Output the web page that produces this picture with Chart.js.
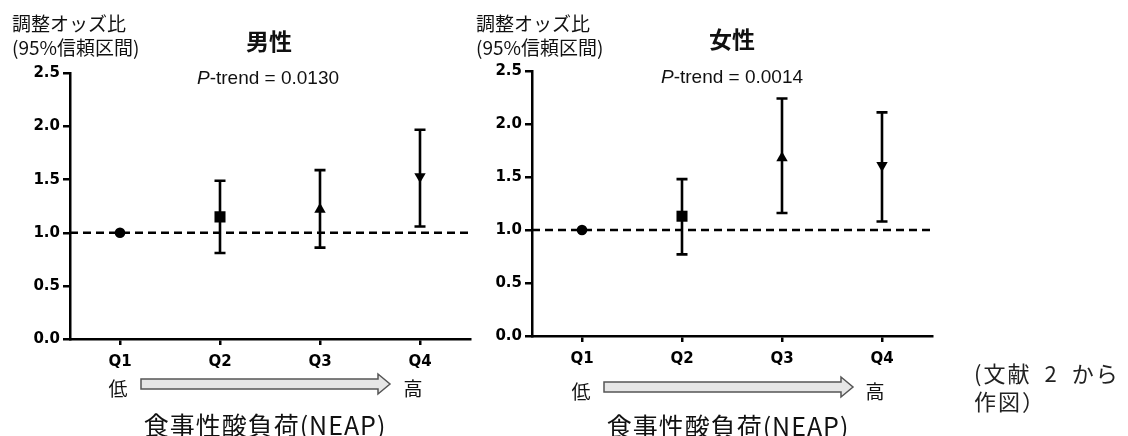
<!DOCTYPE html>
<html>
<head>
<meta charset="utf-8">
<script src="https://cdn.jsdelivr.net/npm/chart.js@4"></script>
<style>
  body { margin: 0; background: #fff; }
  #wrap { position: relative; width: 1128px; height: 436px; overflow: hidden; }
  canvas { position: absolute; top: 0; }
  .t { position: absolute; transform: translate(-50%, -50%); white-space: nowrap; color: #111; }
  .jp { font-family: "Noto Sans CJK JP", sans-serif; }
  .lat { font-family: "Liberation Sans", Arial, sans-serif; }
  .ytitle { position: absolute; font-family: "Noto Sans CJK JP", sans-serif; font-size: 19px; line-height: 24px; color: #111; }
  .note { position: absolute; font-family: "Noto Sans CJK JP", serif; font-size: 22px; line-height: 28px; color: #222; left: 974px; top: 358px; letter-spacing: 2px; white-space: nowrap; }
  svg { position: absolute; left: 0; top: 0; }
</style>
</head>
<body>
<div id="wrap">
  <canvas id="men" width="480" height="436" style="left:0px;width:480px;height:436px"></canvas>
  <canvas id="women" width="480" height="436" style="left:462px;width:480px;height:436px"></canvas>

  <div class="ytitle" style="left:12px;top:11px">調整オッズ比<br>(95%信頼区間)</div>
  <div class="ytitle" style="left:476px;top:11px">調整オッズ比<br>(95%信頼区間)</div>

  <div class="t jp" style="left:269px;top:40px;font-size:23px;font-weight:bold">男性</div>
  <div class="t jp" style="left:732px;top:38px;font-size:23px;font-weight:bold">女性</div>
  <div class="t lat" style="left:268px;top:78px;font-size:19px"><i>P</i>-trend = 0.0130</div>
  <div class="t lat" style="left:732px;top:77px;font-size:19px"><i>P</i>-trend = 0.0014</div>

  <div class="t jp" style="left:118px;top:387px;font-size:19px">低</div>
  <div class="t jp" style="left:413px;top:387px;font-size:19px">高</div>
  <div class="t jp" style="left:581px;top:390px;font-size:19px">低</div>
  <div class="t jp" style="left:875px;top:390px;font-size:19px">高</div>

  <div class="t jp" style="left:265px;top:424px;font-size:25px;letter-spacing:1px">食事性酸負荷(NEAP)</div>
  <div class="t jp" style="left:728px;top:425px;font-size:25px;letter-spacing:1px">食事性酸負荷(NEAP)</div>

  <svg width="1128" height="436">
    <polygon points="141,379 378,379 378,374 390,384 378,394 378,389 141,389" fill="#e6e6e6" stroke="#555" stroke-width="1.5"/>
    <polygon points="604,382 841,382 841,377 853,387 841,397 841,392 604,392" fill="#e6e6e6" stroke="#555" stroke-width="1.5"/>
  </svg>

  <div class="note">(文献&ensp;2&ensp;から<br>作図）</div>
</div>

<script>
const quartiles = ['Q1', 'Q2', 'Q3', 'Q4'];
const yTickValues = [0, 0.5, 1.0, 1.5, 2.0, 2.5];
const refValue = 1.0;

// 男性
const menOR    = [1.00, 1.15, 1.22, 1.53];
const menLower = [1.00, 0.81, 0.86, 1.06];
const menUpper = [1.00, 1.49, 1.59, 1.97];

// 女性
const womenOR    = [1.00, 1.13, 1.68, 1.61];
const womenLower = [1.00, 0.77, 1.16, 1.08];
const womenUpper = [1.00, 1.48, 2.24, 2.11];

const markerStyles = ['circle', 'rect', 'triangle', 'triangle'];
const markerRotation = [0, 0, 0, 180];
const markerRadius = [5.3, 7.8, 6.6, 6.6];

const errorBars = {
    id: 'errorBars',
    afterDatasetsDraw(chart, args, opts) {
        const ctx = chart.ctx;
        const xs = chart.scales.x, ys = chart.scales.y;
        ctx.save();
        ctx.strokeStyle = '#000';
        ctx.lineWidth = 2.6;
        opts.lower.forEach((lo, i) => {
            const hi = opts.upper[i];
            if (lo === hi) return;
            const x = xs.getPixelForValue(i + 1);
            const y1 = ys.getPixelForValue(lo);
            const y2 = ys.getPixelForValue(hi);
            ctx.beginPath();
            ctx.moveTo(x, y1); ctx.lineTo(x, y2);
            ctx.moveTo(x - 5.5, y1); ctx.lineTo(x + 5.5, y1);
            ctx.moveTo(x - 5.5, y2); ctx.lineTo(x + 5.5, y2);
            ctx.stroke();
        });
        ctx.restore();
    }
};

function makePanel(id, est, lower, upper, padTop, padBottom) {
    const ctx = document.getElementById(id).getContext('2d');
    return new Chart(ctx, {
        type: 'scatter',
        data: {
            datasets: [{
                type: 'line',
                data: [{ x: 0.5, y: refValue }, { x: 4.5, y: refValue }],
                borderColor: '#000',
                borderWidth: 2.4,
                borderDash: [8, 5],
                pointRadius: 0,
                order: 2
            }, {
                data: est.map((v, i) => ({ x: i + 1, y: v })),
                backgroundColor: '#000',
                borderColor: '#000',
                borderWidth: 0,
                pointStyle: markerStyles,
                rotation: markerRotation,
                pointRadius: markerRadius,
                order: 1
            }]
        },
        options: {
            responsive: false,
            animation: false,
            devicePixelRatio: 1,
            layout: { padding: { top: padTop, right: 10, bottom: padBottom, left: 0 } },
            plugins: {
                legend: { display: false },
                tooltip: { enabled: false },
                errorBars: { lower: lower, upper: upper }
            },
            scales: {
                x: {
                    type: 'linear',
                    min: 0.5,
                    max: 4.5,
                    afterBuildTicks: s => { s.ticks = quartiles.map((q, i) => ({ value: i + 1 })); },
                    afterFit: s => { s.height = 30; },
                    ticks: {
                        callback: (v) => quartiles[v - 1],
                        color: '#000',
                        padding: 8,
                        font: { family: 'DejaVu Sans', size: 15, weight: 'bold' }
                    },
                    grid: { drawOnChartArea: false, tickLength: 6, color: '#000', lineWidth: 2.5 },
                    border: { color: '#000', width: 2.5 }
                },
                y: {
                    min: 0,
                    max: 2.5,
                    afterBuildTicks: s => { s.ticks = yTickValues.map(v => ({ value: v })); },
                    afterFit: s => { s.width = 70; },
                    ticks: {
                        callback: v => v.toFixed(1),
                        color: '#000',
                        padding: 3,
                        font: { family: 'DejaVu Sans', size: 15, weight: 'bold' }
                    },
                    grid: { drawOnChartArea: false, tickLength: 7, color: '#000', lineWidth: 2.5 },
                    border: { color: '#000', width: 2.5 }
                }
            }
        },
        plugins: [errorBars]
    });
}

makePanel('men', menOR, menLower, menUpper, 73.5, 436 - 339 - 30);
makePanel('women', womenOR, womenLower, womenUpper, 71, 436 - 336 - 30);
</script>
</body>
</html>
